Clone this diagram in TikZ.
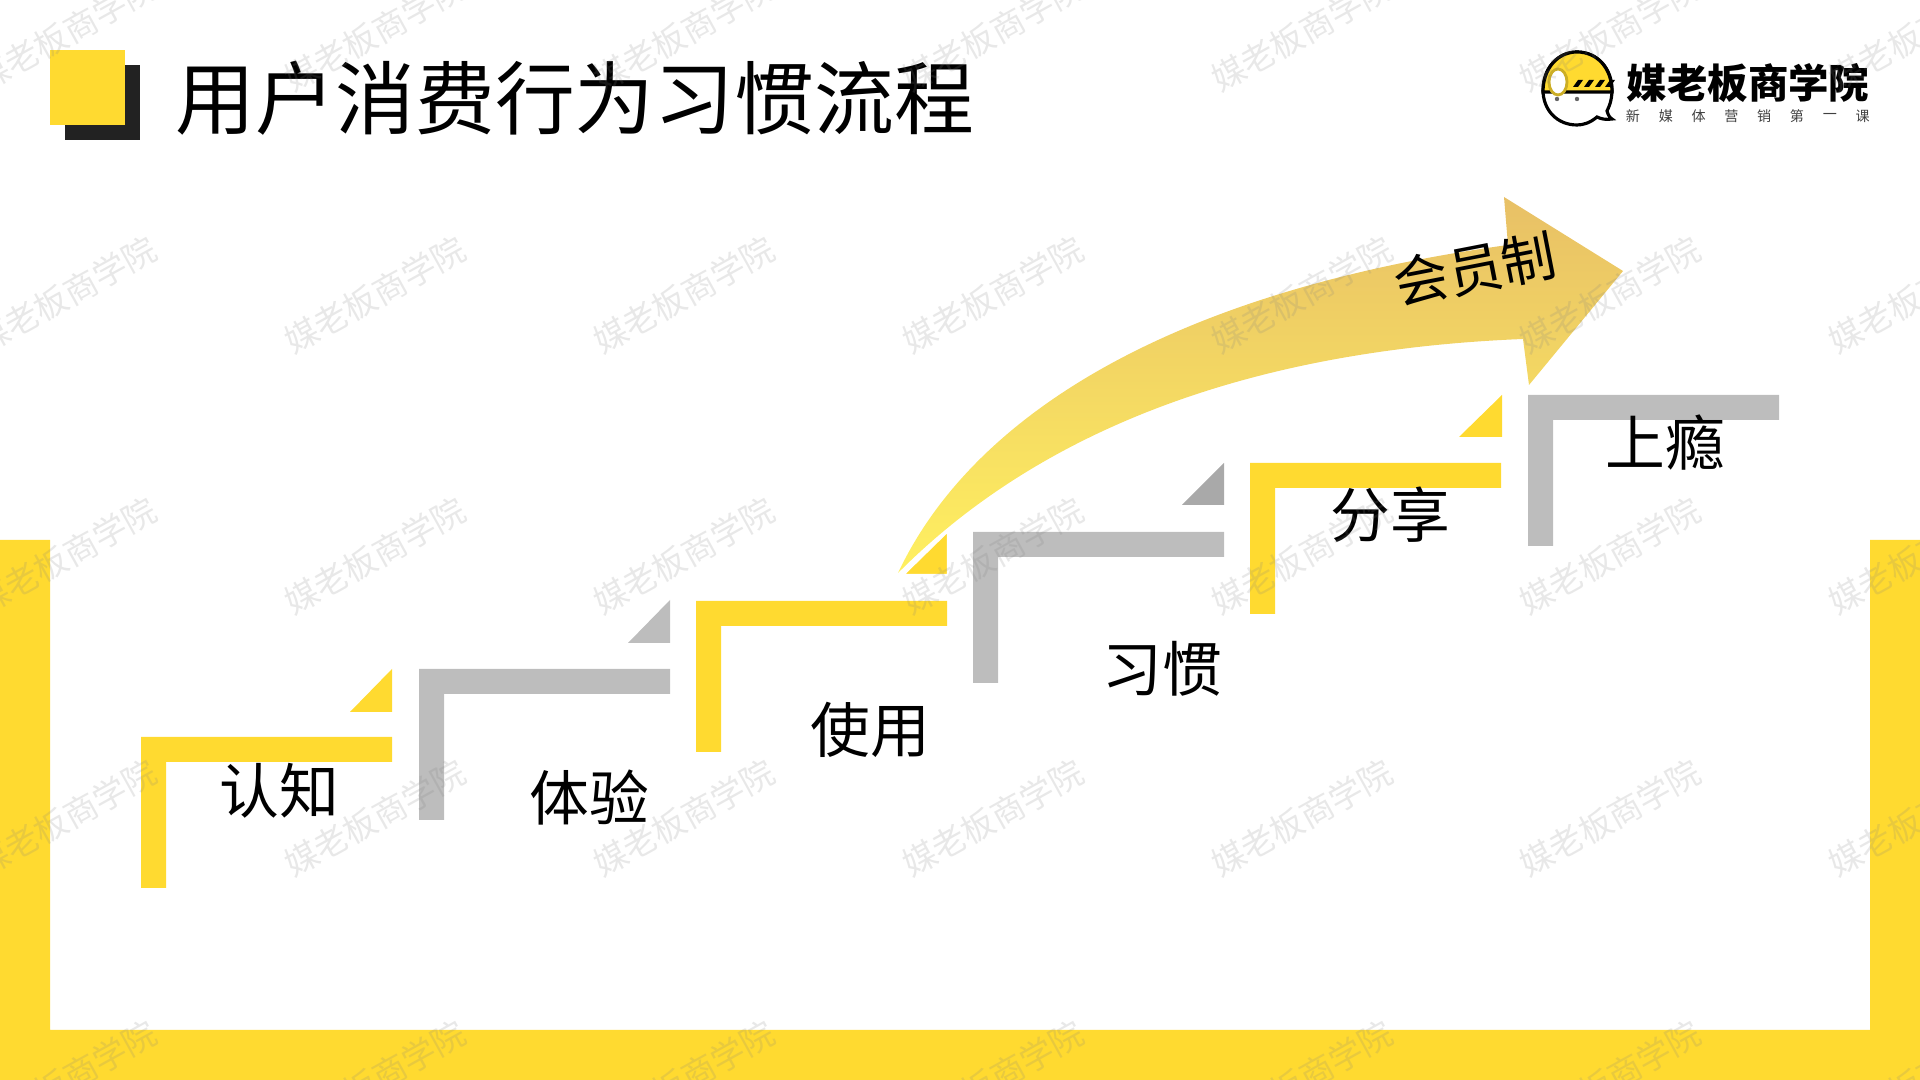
\documentclass[tikz,border=0pt]{standalone}
\usepackage{fontspec}
\setmainfont{Noto Sans CJK SC}
\definecolor{brandyellow}{HTML}{FFDA30}
\definecolor{stepgray}{HTML}{BDBDBD}
\definecolor{tipgray}{HTML}{A9A9A9}
\definecolor{squaredark}{HTML}{222222}
\definecolor{arrowlow}{HTML}{FFF060}
\definecolor{arrowhigh}{HTML}{E8C066}
\tikzstyle{pagetitle} = [anchor=west, inner sep=0pt, font=\fontsize{22.7}{24}\selectfont]
\tikzstyle{steplabel} = [inner sep=0pt, font=\fontsize{17}{18}\selectfont]
\tikzstyle{member} = [inner sep=0pt, rotate=11, font=\fontsize{15.5}{16}\selectfont]
\tikzstyle{brand} = [inner sep=0pt, font=\fontsize{11.5}{12}\selectfont\bfseries]
\tikzstyle{brandsub} = [inner sep=0pt, text=black!75, font=\fontsize{4}{5}\selectfont]
\tikzstyle{watermark} = [inner sep=0pt, rotate=29, text=gray, opacity=0.18, font=\fontsize{9.5}{10}\selectfont]

\begin{document}
\begin{tikzpicture}[x=0.01cm, y=-0.01cm]
\useasboundingbox (0,0) rectangle (1920,1080);

% frame
\fill [brandyellow] (0,540) -- (50,540) -- (50,1030) -- (1870,1030) -- (1870,540) -- (1920,540) -- (1920,1080) -- (0,1080) -- cycle;

% title
\fill [squaredark] (65,65) rectangle (140,140);
\fill [brandyellow] (50,50) rectangle (125,125);
\node (title) [pagetitle] at (175,98) {用户消费行为习惯流程};

% arrow
\shade [top color=arrowhigh, bottom color=arrowlow] (898,573) .. controls (975,410) and (1180,290) .. (1508,245) -- (1504,197) -- (1623,271) -- (1529,385) -- (1523,339) .. controls (1250,350) and (1040,430) .. (898,573) -- cycle;

% steps
\foreach \px/\py/\col in {141/737/brandyellow, 419/669/stepgray, 696/601/brandyellow, 973/532/stepgray, 1250/463/brandyellow, 1528/395/stepgray} {
  \fill [\col] (\px,\py) -- ++(251,0) -- ++(0,25) -- ++(-226,0) -- ++(0,126) -- ++(-25,0) -- cycle;
}
\fill [brandyellow] (350,712) -- (392,712) -- (392,669) -- cycle;
\fill [stepgray] (628,643) -- (670,643) -- (670,600) -- cycle;
\fill [brandyellow, draw=white, line width=0.6pt] (903,575) -- (948,575) -- (948,531) -- cycle;
\fill [tipgray] (1182,505) -- (1224,505) -- (1224,463) -- cycle;
\fill [brandyellow] (1459,437) -- (1502,437) -- (1502,395) -- cycle;

% labels
\node (know) [steplabel] at (279,791) {认知};
\node (try) [steplabel] at (589,798) {体验};
\node (use) [steplabel] at (870,730) {使用};
\node (habit) [steplabel] at (1162,669) {习惯};
\node (share) [steplabel] at (1390,515) {分享};
\node (hooked) [steplabel] at (1665,443) {上瘾};
\node (vip) [member] at (1475,269) {会员制};

% logo
\fill [white, draw=black, line width=0.9pt] (1543,90) .. controls (1543,68) and (1558,52) .. (1577,52) .. controls (1597,52) and (1612,68) .. (1612,90) .. controls (1612,100) and (1609,107) .. (1607,111) .. controls (1608,115) and (1610,118) .. (1612,119) .. controls (1606,120) and (1601,119) .. (1597,117) .. controls (1590,123) and (1583,125) .. (1577,125) .. controls (1557,125) and (1543,110) .. (1543,90) -- cycle;
\fill [brandyellow, draw=black, line width=0.9pt] (1543,92) .. controls (1543,68) and (1558,52) .. (1577,52) .. controls (1597,52) and (1612,68) .. (1612,92) -- cycle;
\fill [white, draw=brandyellow!80!black, line width=0.8pt] (1558,82) ellipse (9 and 13);
\foreach \sx in {1573,1584,1595,1605} {
  \fill [black] (\sx,87) -- ++(5,0) -- ++(5,-7) -- ++(-5,0) -- cycle;
}
\fill [black!60] (1557,99) circle (2.2);
\fill [black!60] (1577,99) circle (2.2);
\node (brand) [brand] at (1748,83) {媒老板商学院};
\foreach \n/\ch in {0/新,1/媒,2/体,3/营,4/销,5/第,6/一,7/课} {
  \node (sub\n) [brandsub] at ({1633+32.8*\n},116) {\ch};
}

% watermark
\foreach \wy [count=\r] in {33,295,556,818,1079} {
  \foreach \wx [count=\c] in {66,375,684,993,1302,1610,1919} {
    \node (wm\r\c) [watermark] at (\wx,\wy) {媒老板商学院};
  }
}

\end{tikzpicture}
\end{document}
